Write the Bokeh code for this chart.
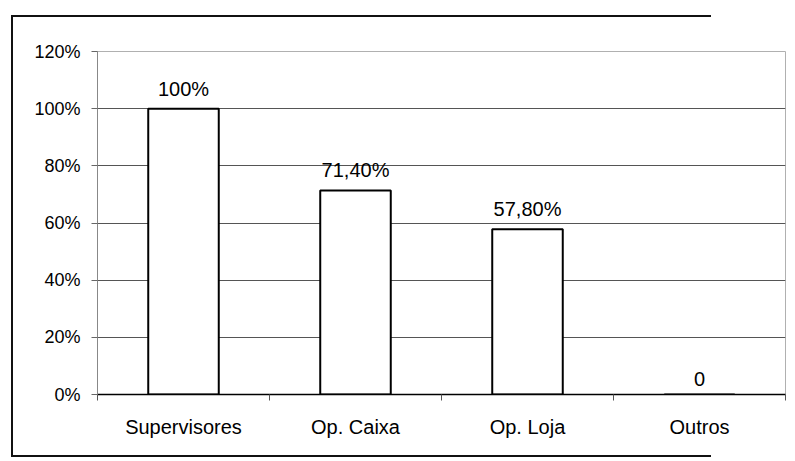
from bokeh.plotting import figure
from bokeh.models import Range1d, FixedTicker, NumeralTickFormatter, ColumnDataSource
from bokeh.core.properties import value
from bokeh.embed import file_html
from bokeh.resources import INLINE

categories = ["Supervisores", "Op. Caixa", "Op. Loja", "Outros"]
values = [1.0, 0.714, 0.578, 0.0]
value_labels = ["100%", "71,40%", "57,80%", "0"]
y_ticks = [0.0, 0.2, 0.4, 0.6, 0.8, 1.0, 1.2]

FONT = "Liberation Sans"
W, H = 787, 461

xs = [i + 0.5 for i in range(len(categories))]
src = ColumnDataSource(dict(x=xs, top=values, lab=value_labels))

p = figure(width=W, height=H, output_backend="svg", toolbar_location=None,
           x_range=Range1d(0, len(categories)), y_range=Range1d(0, 1.2),
           min_border_left=97, min_border_right=W - 785, min_border_top=51,
           min_border_bottom=H - 394)

p.background_fill_color = "white"
p.border_fill_alpha = 0
p.outline_line_color = "#b0b0b0"
p.outline_line_width = 1

# outer chart frame (left, top, bottom edges; right edge lies beyond the picture)
p.styles = {
    "background-color": "white",
    "background-image": "linear-gradient(#111,#111), linear-gradient(#111,#111), linear-gradient(#111,#111)",
    "background-size": "2px 441px, 700px 2px, 700px 2px",
    "background-position": "11px 15px, 11px 15px, 11px 455px",
    "background-repeat": "no-repeat, no-repeat, no-repeat",
}

# bars
p.vbar(x="x", top="top", width=0.41, bottom=0, source=src,
       fill_color="white", line_color="black", line_width=2)

# data labels
p.text(x="x", y="top", text="lab", source=src, text_align="center",
       text_baseline="bottom", y_offset=-9, text_font=value(FONT),
       text_font_size="20px", text_color="black")

# x axis
xa = p.xaxis[0]
xa.ticker = FixedTicker(ticks=xs, minor_ticks=list(range(len(categories) + 1)))
xa.major_label_overrides = {x: c for x, c in zip(xs, categories)}
xa.major_tick_line_color = None
xa.major_tick_out = 0
xa.major_tick_in = 0
xa.minor_tick_line_color = "#555555"
xa.minor_tick_out = 6
xa.minor_tick_in = 0
xa.axis_line_color = "black"
xa.axis_line_width = 1.5
xa.major_label_standoff = 15
xa.major_label_text_font = FONT
xa.major_label_text_font_size = "20px"
xa.major_label_text_color = "black"

# y axis
ya = p.yaxis[0]
ya.ticker = FixedTicker(ticks=y_ticks)
ya.formatter = NumeralTickFormatter(format="0%")
ya.major_tick_line_color = "#666666"
ya.major_tick_out = 6
ya.major_tick_in = 0
ya.minor_tick_line_color = None
ya.axis_line_color = "#888888"
ya.axis_line_width = 1
ya.major_label_standoff = 11
ya.major_label_text_font = FONT
ya.major_label_text_font_size = "18px"
ya.major_label_text_color = "black"

p.xgrid.grid_line_color = None
p.ygrid.grid_line_color = "#555555"
p.ygrid.grid_line_width = 1

open("out.html", "w").write(file_html(p, INLINE))
